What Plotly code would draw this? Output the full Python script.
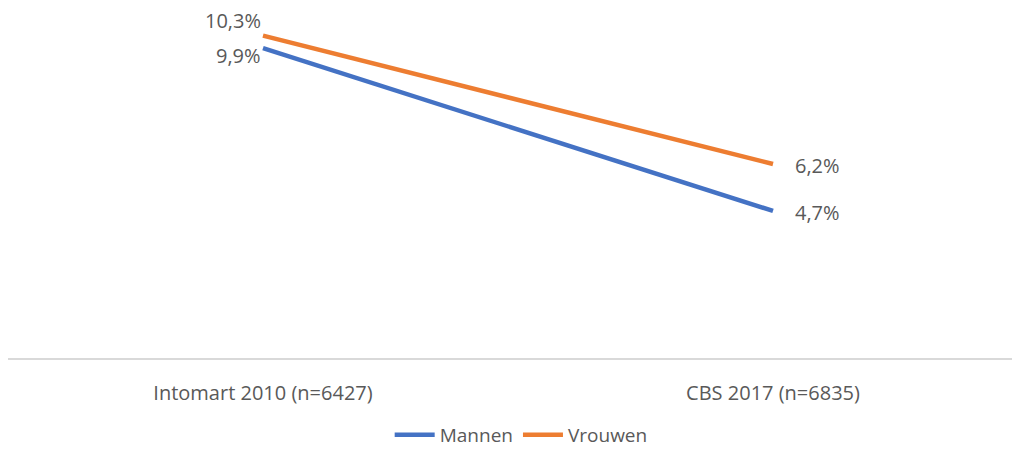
import plotly.graph_objects as go

categories = ["Intomart 2010 (n=6427)", "CBS 2017 (n=6835)"]
mannen = [9.9, 4.7]
vrouwen = [10.3, 6.2]
series_names = ["Mannen", "Vrouwen"]
colors = ["#4472C4", "#ED7D31"]
text_color = "#595959"
font_family = "'Open Sans', 'Noto Sans', sans-serif"

fig = go.Figure()
for name, values, color in zip(series_names, [mannen, vrouwen], colors):
    fig.add_trace(go.Scatter(
        x=categories, y=values, mode="lines", name=name,
        line={"color": color, "width": 4.5}, hoverinfo="skip",
    ))

# data labels: left of the first point, right of the last one
first_shift = {"Mannen": -7, "Vrouwen": 15}
for name, values in zip(series_names, [mannen, vrouwen]):
    label = lambda v: f"{v:.1f}%".replace(".", ",")
    fig.add_annotation(x=categories[0], y=values[0], text=label(values[0]),
                       showarrow=False, xanchor="right", xshift=0,
                       yshift=first_shift[name])
    fig.add_annotation(x=categories[1], y=values[1], text=label(values[1]),
                       showarrow=False, xanchor="left", xshift=20, yshift=-2)

fig.update_layout(
    width=1012, height=454,
    margin={"l": 8, "r": 0, "t": 0, "b": 96, "pad": 0},
    paper_bgcolor="white", plot_bgcolor="white",
    font={"family": font_family, "size": 20, "color": text_color},
    showlegend=True,
    legend={"orientation": "h", "x": 0.515, "xanchor": "center", "xref": "container",
            "y": -0.012, "yanchor": "bottom", "yref": "container",
            "font": {"size": 19, "color": text_color}, "itemwidth": 40,
            "tracegroupgap": 0},
)
fig.update_xaxes(
    type="category", range=[-0.5, 1.4686], automargin=False,
    showline=True, linecolor="#D9D9D9", linewidth=1.5,
    showgrid=False, zeroline=False,
    ticks="outside", ticklen=16, tickcolor="rgba(0,0,0,0)",
    tickfont={"size": 20, "color": text_color},
)
fig.update_yaxes(range=[0, 11.44], visible=False, automargin=False,
                 showgrid=False, zeroline=False)

fig.write_html("out.html", config={"displayModeBar": False},
               post_script="document.body.style.margin='0';")
